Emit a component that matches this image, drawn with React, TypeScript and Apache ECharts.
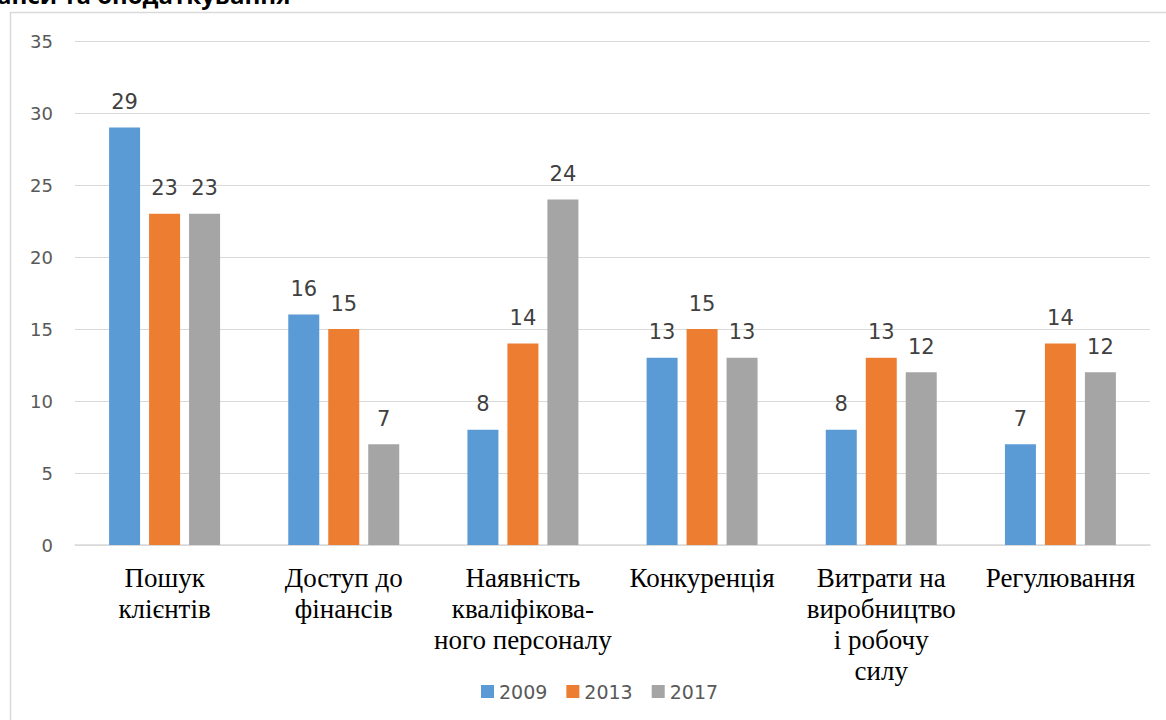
import React, { useEffect, useRef } from "react";
import * as echarts from "echarts";

const categories = [
  "Пошук\nклієнтів",
  "Доступ до\nфінансів",
  "Наявність\nкваліфікова-\nного персоналу",
  "Конкуренція",
  "Витрати на\nвиробництво\nі робочу\nсилу",
  "Регулювання",
];
const years = ["2009", "2013", "2017"];
const values2009 = [29, 16, 8, 13, 8, 7];
const values2013 = [23, 15, 14, 15, 13, 14];
const values2017 = [23, 7, 24, 13, 12, 12];
const colors = ["#5b9bd5", "#ed7d31", "#a5a5a5"];
const titleFragment = "анси та оподаткування";

export default function App() {
  const ref = useRef<HTMLDivElement>(null);
  useEffect(() => {
    if (!ref.current) return;
    const chart = echarts.init(ref.current, null, { renderer: "svg" });
    const seriesData = [values2009, values2013, values2017];
    chart.setOption({
      animation: false,
      backgroundColor: "#ffffff",
      graphic: [
        {
          type: "rect",
          z: 0,
          shape: { x: 10.5, y: 12.5, width: 1300, height: 900 },
          style: { fill: "none", stroke: "#d9d9d9", lineWidth: 1.5 },
          silent: true,
        },
        {
          type: "text",
          x: -3,
          y: 6,
          style: {
            text: titleFragment,
            font: "bold 24px 'Open Sans', sans-serif",
            fill: "#000000",
            verticalAlign: "bottom",
            align: "left",
          },
          silent: true,
        },
      ],
      grid: { left: 75, right: 16, top: 41, bottom: 175, containLabel: false },
      legend: {
        data: years,
        top: 677,
        left: 476,
        itemWidth: 13,
        itemHeight: 13,
        itemGap: 19,
        icon: "rect",
        textStyle: {
          color: "#595959",
          fontSize: 19,
          fontFamily: "'DejaVu Sans', sans-serif",
        },
      },
      xAxis: {
        type: "category",
        data: categories,
        axisLine: { show: true, lineStyle: { color: "#d9d9d9", width: 1.5 } },
        axisTick: { show: false },
        axisLabel: {
          interval: 0,
          margin: 17,
          color: "#000000",
          fontSize: 27,
          lineHeight: 31,
          fontFamily: "'Liberation Serif', 'Times New Roman', serif",
          align: "center",
        },
      },
      yAxis: {
        type: "value",
        min: 0,
        max: 35,
        interval: 5,
        axisLine: { show: false },
        axisTick: { show: false },
        splitLine: { lineStyle: { color: "#d9d9d9", width: 1 } },
        axisLabel: {
          margin: 22,
          color: "#595959",
          fontSize: 18,
          fontFamily: "'DejaVu Sans', sans-serif",
        },
      },
      series: years.map((y, i) => ({
        name: y,
        type: "bar",
        data: seriesData[i],
        barWidth: 31,
        barGap: "29%",
        itemStyle: { color: colors[i] },
        label: {
          show: true,
          position: "top",
          distance: 15,
          color: "#404040",
          fontSize: 21,
          fontFamily: "'DejaVu Sans', sans-serif",
        },
      })),
    });
    return () => chart.dispose();
  }, []);
  return (
    <div
      ref={ref}
      style={{ position: "fixed", left: 0, top: 0, width: 1166, height: 720 }}
    />
  );
}
